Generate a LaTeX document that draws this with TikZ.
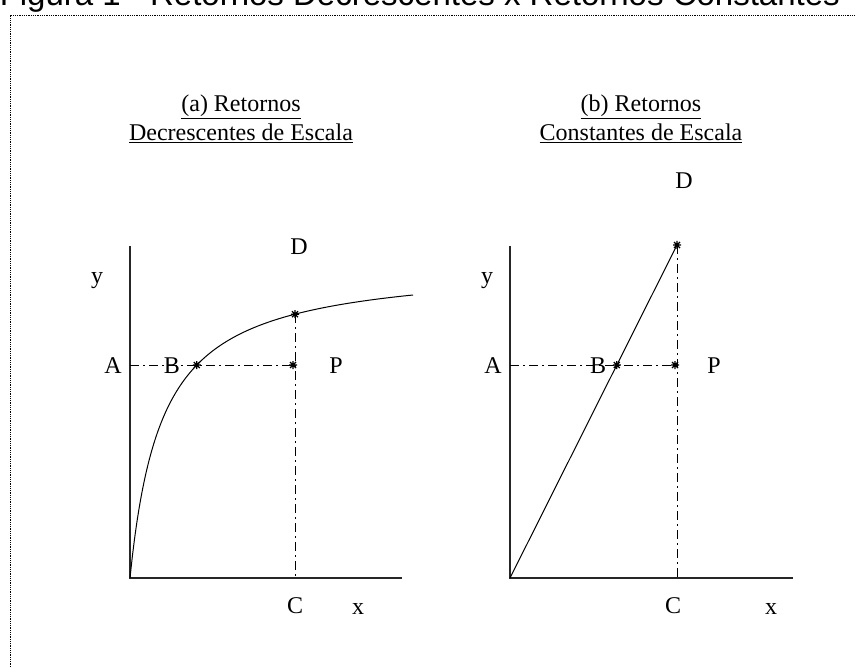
\documentclass[tikz,border=0pt]{standalone}
\usepackage{fontspec}
\setmainfont{Liberation Serif}
\newfontfamily\headfont{Liberation Sans}
\usepackage{tikz}
\usetikzlibrary{positioning,calc}

\begin{document}
\begin{tikzpicture}[
    x=1pt, y=-1pt,
    lbl/.style={inner sep=0pt, font=\fontsize{24}{28}\selectfont},
    ttl/.style={inner sep=0pt, align=center, font=\fontsize{24}{29}\selectfont},
    mk/.style={line width=1.2pt},
    ax/.style={line width=1.3pt, draw=black!85},
    crv/.style={line width=1pt},
    dd/.style={line width=1pt, dash pattern=on 9pt off 4pt on 2pt off 4pt},
    frm/.style={line width=0.8pt, densely dotted}
]
\useasboundingbox (0,0) rectangle (856,668);

\node[anchor=base east, inner sep=0pt, font=\headfont\fontsize{33}{36}\selectfont] (fig) at (840,6)
    {Figura 1 - Retornos Decrescentes x Retornos Constantes};
\coordinate (f0) at (10,15);
\coordinate (f1) at (860,15);
\coordinate (f2) at (10,672);
\draw[frm] (f1) -- (f0) -- (f2);

% (a) decrescentes
\node[ttl] (ta) at (241,119) {\underline{(a) Retornos}\\\underline{Decrescentes de Escala}};
\coordinate (oa) at (130,578);
\coordinate (ya) at (130,246);
\coordinate (xa) at (402,578);
\coordinate (ha) at (130,365);
\coordinate (ca) at (295,578);
\coordinate (ba) at (196.8,365);
\coordinate (da) at (295,314.2);
\coordinate (pa) at (293,365);

\node[lbl] (ya-l) at (97,281) {y};
\node[lbl] (aa-l) at (113,366) {A};
\node[lbl] (ba-l) at (172,366) {B};
\node[lbl] (pa-l) at (336,366) {P};
\node[lbl] (da-l) at (299,247) {D};
\node[lbl] (ca-l) at (295,606) {C};
\node[lbl] (xa-l) at (358,609) {x};

\draw[ax] (ya) -- (oa) -- (xa);
\draw[crv] plot[domain=0:283, samples=120, smooth] ({130+\x}, {578-(\x/(32+\x))*315});
\draw[dd] (ha) -- (pa);
\draw[dd] (da) -- (ca);

% (b) constantes
\node[ttl] (tb) at (641,119) {\underline{(b) Retornos}\\\underline{Constantes de Escala}};
\coordinate (ob) at (510,578);
\coordinate (yb) at (510,246);
\coordinate (xb) at (793,578);
\coordinate (hb) at (510,365);
\coordinate (cb) at (677,578);
\coordinate (bb) at (616.8,365);
\coordinate (db) at (677,245);
\coordinate (pb) at (675,365);

\node[lbl] (yb-l) at (487,281) {y};
\node[lbl] (ab-l) at (493,366) {A};
\node[lbl] (bb-l) at (598,366) {B};
\node[lbl] (pb-l) at (714,366) {P};
\node[lbl] (db-l) at (684,181) {D};
\node[lbl] (cb-l) at (673,606) {C};
\node[lbl] (xb-l) at (771,609) {x};

\draw[ax] (yb) -- (ob) -- (xb);
\draw[crv] (ob) -- (db);
\draw[dd] (hb) -- (pb);
\draw[dd] (db) -- (cb);

\foreach \p in {ba,da,pa,bb,db,pb}
    \draw[mk] (\p) +(-4,0) -- +(4,0) +(0,-4) -- +(0,4) +(-3,-3) -- +(3,3) +(-3,3) -- +(3,-3);
\end{tikzpicture}
\end{document}
